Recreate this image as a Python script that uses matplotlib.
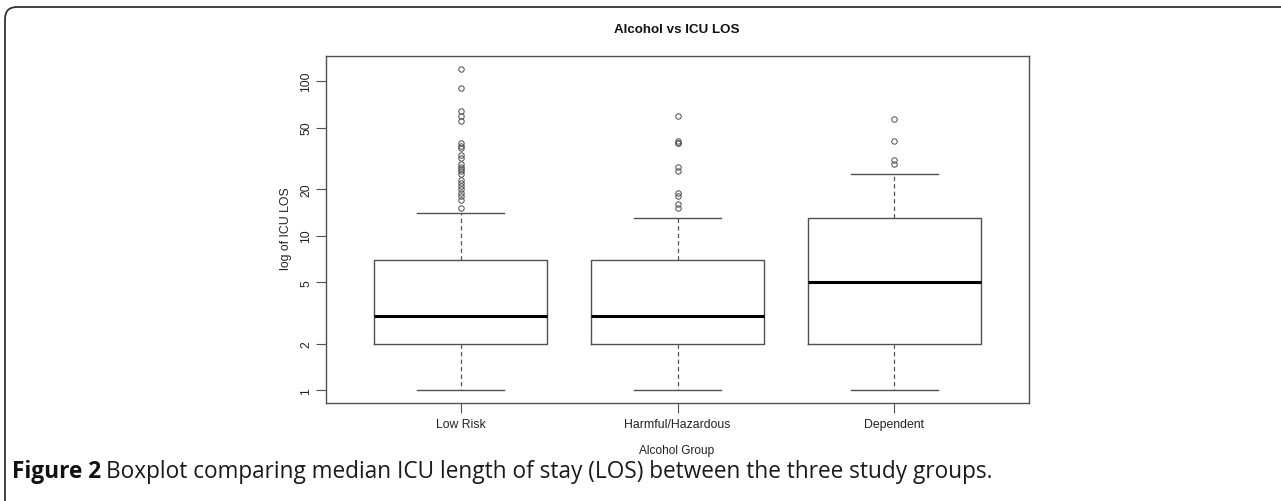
import numpy as np
import matplotlib
matplotlib.use("Agg")
import matplotlib.pyplot as plt
from matplotlib.path import Path
from matplotlib.patches import PathPatch
from matplotlib.transforms import IdentityTransform

categories = ['Low Risk', 'Harmful/Hazardous', 'Dependent']
whisker_low = [1, 1, 1]
q1 = [2, 2, 2]
median = [3, 3, 5]
q3 = [7, 7, 13]
whisker_high = [14, 13, 25]
outliers_low_risk = [15, 17, 18, 19, 20, 21, 22, 23, 25, 26, 27, 28, 29, 32, 33,
                     37, 38, 40, 55, 59, 64, 90, 120]
outliers_harmful = [15, 16, 18, 19, 26, 28, 40, 40, 41, 59]
outliers_dependent = [29, 31, 41, 57]
yticks = [1, 2, 5, 10, 20, 50, 100]

title = 'Alcohol vs ICU LOS'
xlabel = 'Alcohol Group'
ylabel = 'log of ICU LOS'
caption_bold = 'Figure 2'
caption_text = 'Boxplot comparing median ICU length of stay (LOS) between the three study groups.'

W, H = 1281, 502
fig = plt.figure(figsize=(W / 100, H / 100), dpi=100)
fig.patch.set_facecolor('white')

# axes box in pixels: x 326-1029, y 57-404
ax = fig.add_axes([326 / W, 1 - 404 / H, (1029 - 326) / W, (404 - 57) / H])

fliers = [outliers_low_risk, outliers_harmful, outliers_dependent]
stats = []
for i in range(3):
    stats.append(dict(med=median[i], q1=q1[i], q3=q3[i],
                      whislo=whisker_low[i], whishi=whisker_high[i],
                      fliers=fliers[i], label=categories[i]))

lc = '#505050'
ax.bxp(stats, positions=[1, 2, 3], widths=0.8, showfliers=True,
       boxprops=dict(color=lc, linewidth=1.0),
       medianprops=dict(color='black', linewidth=2.2, solid_capstyle='butt'),
       whiskerprops=dict(color='#555555', linewidth=0.9, linestyle=(0, (3.5, 2.5))),
       capprops=dict(color=lc, linewidth=1.0),
       capwidths=0.4,
       flierprops=dict(marker='o', markerfacecolor='none', markeredgecolor='#555555',
                       markersize=3.9, markeredgewidth=0.75, linestyle='none'))

ax.set_yscale('log')
all_vals = whisker_low + outliers_low_risk + outliers_harmful + outliers_dependent
lo, hi = np.log10(min(all_vals)), np.log10(max(all_vals))
rng = hi - lo
ax.set_ylim(10 ** (lo - 0.04 * rng), 10 ** (hi + 0.04 * rng))
ax.set_xlim(0.38, 3.62)

ax.set_yticks(yticks)
ax.set_yticklabels([str(v) for v in yticks])
ax.yaxis.set_minor_locator(matplotlib.ticker.NullLocator())
ax.set_xticks([1, 2, 3])
ax.set_xticklabels(categories)

font = ['Liberation Sans', 'DejaVu Sans']
tick_color = '#505050'
ax.tick_params(axis='both', direction='out', length=7, width=0.8, color=tick_color,
               labelsize=8.8, labelcolor='#222222')
ax.tick_params(axis='x', pad=4)
ax.tick_params(axis='y', pad=3)
for lab in ax.get_yticklabels():
    lab.set_rotation(90)
    lab.set_va('center')
    lab.set_family(font)
for lab in ax.get_xticklabels():
    lab.set_family(font)

for s in ax.spines.values():
    s.set_color('#505050')
    s.set_linewidth(1.0)

fig.text(677 / W, 1 - 30 / H, title, ha='center', va='center', fontsize=9.6,
         fontweight='bold', family=font, color='#111111')
fig.text(677 / W, 1 - 451 / H, xlabel, ha='center', va='center', fontsize=8.6,
         family=font, color='#222222')
fig.text(286 / W, 1 - 229 / H, ylabel, ha='center', va='center', fontsize=8.8,
         rotation=90, family=font, color='#222222')

# caption, sized so it spans the same width as the reference
cap_font = ['Open Sans', 'DejaVu Sans']
target_w = 993 - 12
fs = 10.5
renderer = fig.canvas.get_renderer()
probe = fig.text(0, 0, caption_bold + ' ' + caption_text, fontsize=fs, family=cap_font)
w = probe.get_window_extent(renderer).width
probe.remove()
fs = fs * target_w / w
base_y = 1 - 478 / H
t1 = fig.text(12 / W, base_y, caption_bold, ha='left', va='baseline', fontsize=fs,
              fontweight='bold', family=cap_font, color='#111111')
bb = t1.get_window_extent(renderer)
fig.text((bb.x1 + 0.28 * fs) / W, base_y, caption_text,
         ha='left', va='baseline', fontsize=fs, family=cap_font, color='#1a1a1a')

# page frame (top edge and left edge with rounded corner)
r = 12
x0, ytop = 5, H - 8
verts = [(x0, -5), (x0, ytop - r), (x0, ytop), (x0 + r, ytop), (W + 5, ytop)]
codes = [Path.MOVETO, Path.LINETO, Path.CURVE3, Path.CURVE3, Path.LINETO]
frame = PathPatch(Path(verts, codes), facecolor='none', edgecolor='#333333',
                  linewidth=1.3, transform=IdentityTransform())
fig.patches.append(frame)

fig.savefig('out.png', dpi=100, facecolor='white')
